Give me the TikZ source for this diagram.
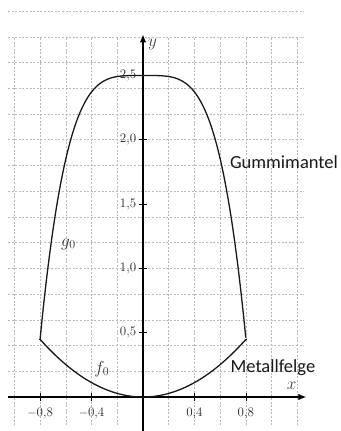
\documentclass[tikz,border=0pt]{standalone}
\usepackage{fontspec}
\newfontfamily\labelfont{Carlito}
\usetikzlibrary{arrows.meta}
\tikzset{
  gridline/.style={gray!55, line width=0.6pt, dash pattern=on 2pt off 1.6pt},
  axisline/.style={black, line width=1.3pt, -{Latex[length=8pt,width=6.5pt]}},
  curve/.style={black!90, line width=1.3pt, line join=round},
  ticklabel/.style={font=\fontsize{13}{15}\selectfont, text=black!85, inner sep=1.5pt},
  axislabel/.style={font=\fontsize{17}{19}\selectfont, text=black!75, inner sep=0pt},
  funclabel/.style={font=\fontsize{17}{19}\selectfont, text=black!80, inner sep=0pt},
  namelabel/.style={font=\labelfont\fontsize{18.5}{20}\selectfont, text=black!90, inner sep=0pt, anchor=base},
  tickmark/.style={black, line width=0.7pt}
}
\begin{document}
\begin{tikzpicture}[x=128.6pt, y=128.6pt]
\useasboundingbox (-1.1120,-0.2644) rectangle (1.5319,3.0871);
% grid
\foreach \gx in {-1.0,-0.8,...,1.21}
  \draw[gridline] (\gx,-0.22) -- (\gx,2.8);
\foreach \gy in {0.2,0.4,...,2.81}
  \draw[gridline] (-1.05,\gy) -- (1.25,\gy);
\draw[gridline] (-1.05,3.0) -- (1.25,3.0);
% axes
\coordinate (xs) at (-1.05,0);
\coordinate (xe) at (1.27,0);
\coordinate (ys) at (0,-0.27);
\coordinate (ye) at (0,2.82);
\draw[axisline] (xs) -- (xe);
\draw[axisline] (ys) -- (ye);
\node[axislabel, anchor=base] (xl) at (1.156,0.055) {$x$};
\node[axislabel] (yl) at (0.075,2.74) {$y$};
% ticks
\foreach \t/\lab in {0.5/{0,5},1.0/{1,0},1.5/{1,5},2.0/{2,0},2.5/{2,5}} {
  \draw[tickmark] (-0.03,\t) -- (0.03,\t);
  \node[ticklabel, anchor=east] (ty\t) at (-0.04,\t) {\lab};
}
\foreach \t/\lab in {-0.8/{$-$0,8},-0.4/{$-$0,4},0.4/{0,4},0.8/{0,8}} {
  \draw[tickmark] (\t,-0.03) -- (\t,0.03);
  \node[ticklabel] (tx\t) at (\t,-0.125) {\lab};
}
% curves
\draw[curve] plot[domain=-0.8:0.8, samples=161, smooth] (\x,{2.5-5*\x*\x*\x*\x});
\draw[curve] plot[domain=-0.8:0.8, samples=81, smooth] (\x,{0.7*\x*\x});
\coordinate (gl) at (-0.8,0.452);
\coordinate (fl) at (-0.8,0.448);
\coordinate (gr) at (0.8,0.452);
\coordinate (fr) at (0.8,0.448);
\draw[curve] (gl) -- (fl);
\draw[curve] (gr) -- (fr);
% labels
\node[funclabel] (g0) at (-0.58,1.19) {$g_0$};
\node[funclabel] (f0) at (-0.32,0.22) {$f_0$};
\node[namelabel] (gm) at (1.096,1.773) {Gummimantel};
\node[namelabel] (mf) at (1.01,0.19) {Metallfelge};
\end{tikzpicture}
\end{document}
